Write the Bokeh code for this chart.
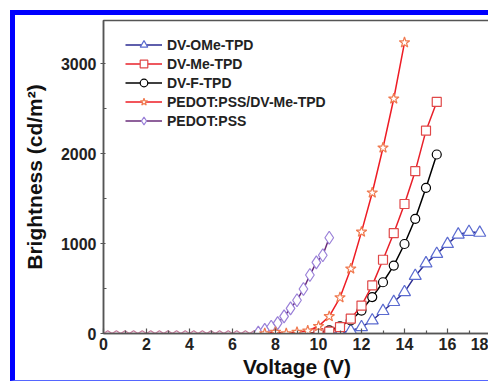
from bokeh.plotting import figure
from bokeh.models import Legend, LegendItem, FixedTicker, Range1d
from bokeh.embed import file_html
from bokeh.resources import INLINE

# ---------------- data ----------------
x_ticks = [0, 2, 4, 6, 8, 10, 12, 14, 16, 18]
x_minor = [1, 3, 5, 7, 9, 11, 13, 15, 17]
y_ticks = [0, 1000, 2000, 3000]
y_minor = [500, 1500, 2500]

ome_v = [10.5, 11.0, 11.5, 12.0, 12.5, 13.0, 13.5, 14.0, 14.5, 15.0, 15.5, 16.0, 16.5, 17.0, 17.5]
ome_b = [0, 5, 30, 70, 145, 250, 350, 460, 640, 780, 885, 995, 1100, 1130, 1120]

me_v = [9.5, 10.0, 10.5, 11.0, 11.5, 12.0, 12.5, 13.0, 13.5, 14.0, 14.5, 15.0, 15.5]
me_b = [0, 5, 20, 70, 165, 310, 535, 820, 1115, 1440, 1805, 2255, 2575]

f_v = [9.5, 10.0, 10.5, 11.0, 11.5, 12.0, 12.5, 13.0, 13.5, 14.0, 14.5, 15.0, 15.5]
f_b = [0, 10, 35, 80, 145, 255, 405, 570, 755, 995, 1275, 1620, 1990]

pm_v = [7.5, 8.0, 8.5, 9.0, 9.5, 10.0, 10.5, 11.0, 11.5, 12.0, 12.5, 13.0, 13.5, 14.0]
pm_b = [0, 15, 0, 15, 30, 80, 190, 400, 720, 1130, 1565, 2065, 2610, 3235]

pedot_v = [7.2, 7.5, 7.8, 8.1, 8.4, 8.7, 9.0, 9.3, 9.6, 9.9, 10.2, 10.5]
pedot_b = [10, 40, 75, 115, 190, 280, 370, 495, 650, 790, 870, 1065]

pedot_low_v = [0.0, 0.2, 0.4, 0.6, 0.8, 1.0, 1.2, 1.4, 1.6, 1.8, 2.0, 2.2, 2.4, 2.6, 2.8,
               3.0, 3.2, 3.4, 3.6, 3.8, 4.0, 4.2, 4.4, 4.6, 4.8, 5.0, 5.2, 5.4, 5.6, 5.8,
               6.0, 6.2, 6.4, 6.6, 6.8, 7.0, 7.2]
pedot_low_b = [0, 30, 0, 30, 0, 30, 0, 30, 0, 30, 0, 30, 0, 30, 0,
               30, 0, 30, 0, 30, 0, 30, 0, 30, 0, 30, 0, 30, 0, 30,
               0, 30, 0, 30, 0, 30, 10]

FONT = "Liberation Sans"
AX = "#555555"

p = figure(width=478, height=371, x_range=Range1d(0, 18), y_range=Range1d(0, 3480),
           output_backend="svg", toolbar_location=None,
           min_border_left=88, min_border_right=3, min_border_top=5, min_border_bottom=53)
p.styles = {"margin-left": "10px", "margin-top": "10px",
            "border-left": "5px solid #0000ff", "border-top": "5px solid #0000ff",
            "border-bottom": "1px solid #5566ff"}
p.background_fill_color = "white"
p.border_fill_color = "white"
p.outline_line_color = AX
p.outline_line_width = 1.5
p.xgrid.visible = False
p.ygrid.visible = False

# zigzag baseline
p.line(pedot_low_v, pedot_low_b, line_color="#c47a9a", line_width=1.2)

r_ome_l = p.line(ome_v, ome_b, line_color="#2a2a90", line_width=1.5)
r_ome_m = p.scatter(ome_v[1:], ome_b[1:], marker="triangle", size=12, line_color="#5b6bd0",
                    fill_color="white", line_width=1.2)
r_pedot_l = p.line(pedot_v, pedot_b, line_color="#6a2c7a", line_width=1.5)
r_pedot_m = p.scatter(pedot_v, pedot_b, marker="diamond", size=13, line_color="#9a80d8",
                      fill_color="white", line_width=1.2)
r_f_l = p.line(f_v, f_b, line_color="black", line_width=1.5)
r_f_m = p.scatter(f_v[1:], f_b[1:], marker="circle", size=9, line_color="black",
                  fill_color="white", line_width=1.2)
r_me_l = p.line(me_v, me_b, line_color="#e8202a", line_width=1.5)
r_me_m = p.scatter(me_v[1:], me_b[1:], marker="square", size=9, line_color="#e04848",
                   fill_color="white", line_width=1.2)
r_pm_l = p.line(pm_v, pm_b, line_color="#ee1c25", line_width=1.5)
r_pm_m = p.scatter(pm_v, pm_b, marker="star", size=11, line_color="#f07a50",
                   fill_color="white", line_width=1.2)

legend = Legend(items=[
    LegendItem(label="DV-OMe-TPD", renderers=[r_ome_l, r_ome_m]),
    LegendItem(label="DV-Me-TPD", renderers=[r_me_l, r_me_m]),
    LegendItem(label="DV-F-TPD", renderers=[r_f_l, r_f_m]),
    LegendItem(label="PEDOT:PSS/DV-Me-TPD", renderers=[r_pm_l, r_pm_m]),
    LegendItem(label="PEDOT:PSS", renderers=[r_pedot_l, r_pedot_m]),
], location=(22, 203))
legend.background_fill_alpha = 0
legend.border_line_color = None
legend.padding = 0
legend.margin = 0
legend.spacing = 0
legend.glyph_width = 37
legend.glyph_height = 19
legend.label_height = 19
legend.label_standoff = 5
legend.label_text_font = FONT
legend.label_text_font_style = "bold"
legend.label_text_font_size = "14px"
legend.label_text_color = "#222222"
p.add_layout(legend, "center")

for ax in (p.xaxis[0], p.yaxis[0]):
    ax.axis_line_color = AX
    ax.axis_line_width = 1.5
    ax.major_tick_line_color = AX
    ax.minor_tick_line_color = AX
    ax.major_tick_line_width = 1.2
    ax.minor_tick_line_width = 1.2
    ax.major_label_text_font = FONT
    ax.major_label_text_font_style = "bold"
    ax.major_label_text_font_size = "16px"
    ax.major_label_text_color = "#222222"
    ax.axis_label_text_font = FONT
    ax.axis_label_text_font_style = "bold"
    ax.axis_label_text_font_size = "21px"
    ax.axis_label_text_color = "#111111"

p.xaxis.ticker = FixedTicker(ticks=x_ticks, minor_ticks=x_minor)
p.yaxis.ticker = FixedTicker(ticks=y_ticks, minor_ticks=y_minor)
p.xaxis.major_tick_in = 5
p.xaxis.major_tick_out = 0
p.xaxis.minor_tick_in = 3
p.xaxis.minor_tick_out = 0
p.xaxis.major_label_standoff = 4
p.xaxis.axis_label = "Voltage (V)"
p.xaxis.axis_label_standoff = 2

p.yaxis.major_tick_in = 2
p.yaxis.major_tick_out = 3
p.yaxis.minor_tick_in = 3
p.yaxis.minor_tick_out = 0
p.yaxis.major_label_standoff = 4
p.yaxis.axis_label = "Brightness (cd/m²)"
p.yaxis.axis_label_standoff = 12

open("out.html", "w").write(file_html(p, INLINE))
